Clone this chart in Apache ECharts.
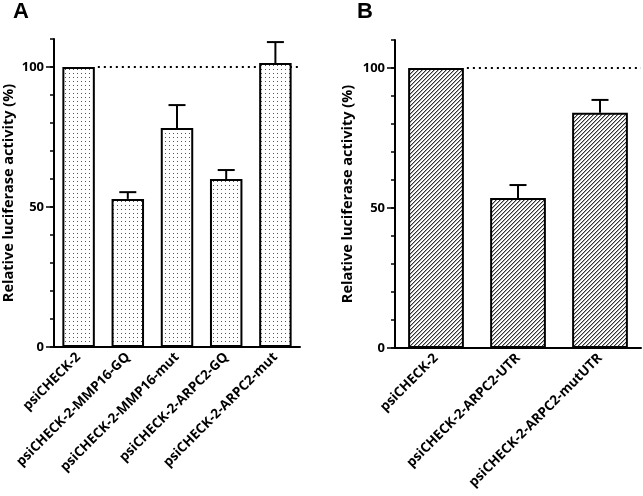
<!DOCTYPE html>
<html><head><meta charset="utf-8">
<script src="https://cdn.jsdelivr.net/npm/echarts@6/dist/echarts.min.js"></script>
<style>html,body{margin:0;padding:0;background:#fff}#c{width:643px;height:496px}</style>
</head><body><div id="c"></div>
<script>
var catsA = ['psiCHECK-2','psiCHECK-2-MMP16-GQ','psiCHECK-2-MMP16-mut','psiCHECK-2-ARPC2-GQ','psiCHECK-2-ARPC2-mut'];
var valsA = [100, 52.9, 78.2, 60.0, 101.4];
var errA  = [0, 2.4, 8.2, 3.2, 7.5];
var catsB = ['psiCHECK-2','psiCHECK-2-ARPC2-UTR','psiCHECK-2-ARPC2-mutUTR'];
var valsB = [100, 53.6, 84.0];
var errB  = [0, 4.6, 4.6];
var yLabels = [0, 50, 100];
var refValue = 100;

function makeDots(){
  var c=document.createElement('canvas');c.width=4;c.height=4;
  var g=c.getContext('2d');g.fillStyle='#fff';g.fillRect(0,0,4,4);
  g.fillStyle='#555';g.fillRect(1,1,1,1);return c;
}
function makeHatch(){
  var c=document.createElement('canvas');c.width=4;c.height=4;
  var g=c.getContext('2d');g.fillStyle='#fff';g.fillRect(0,0,4,4);
  g.fillStyle='#333';
  for(var i=0;i<4;i++){g.fillRect(3-i,i,1,1);}
  g.fillStyle='#aaa';
  for(var i=0;i<4;i++){g.fillRect((4-i)%4,i,1,1);}
  return c;
}
var FONT='Open Sans';
function yAxis(gi){
  return {type:'value',gridIndex:gi,min:0,max:110,interval:10,
    name:'Relative luciferase activity (%)',nameLocation:'middle',nameGap:gi===0?38:40,
    nameTextStyle:{fontFamily:FONT,fontWeight:'bold',fontSize:14.5,color:'#000'},
    axisLine:{show:true,lineStyle:{color:'#000',width:2}},
    axisTick:{show:true,length:4,lineStyle:{color:'#000',width:1.5}},
    splitLine:{show:false},
    axisLabel:{fontFamily:FONT,fontWeight:'bold',fontSize:13,color:'#000',margin:10,
      formatter:function(v){return yLabels.indexOf(v)>=0?String(v):'';}}
  };
}
function xAxis(gi,cats){
  return {type:'category',gridIndex:gi,data:cats,
    axisLine:{lineStyle:{color:'#000',width:2}},
    axisTick:{alignWithLabel:true,length:5,lineStyle:{color:'#000',width:1.5}},
    axisLabel:{interval:0,rotate:45,fontFamily:FONT,fontWeight:'bold',fontSize:13.5,color:'#000',margin:8}
  };
}
function majorTicks(gi){
  return {type:'custom',xAxisIndex:gi,yAxisIndex:gi,z:6,silent:true,clip:false,
    data:yLabels.map(function(v){return [0,v];}),
    renderItem:function(p,api){
      var y=api.coord([0,api.value(1)])[1];
      var x=p.coordSys.x;
      return {type:'line',shape:{x1:x-8,y1:y,x2:x,y2:y},style:{stroke:'#000',lineWidth:1.5}};
    }};
}
function errSeries(gi,vals,errs){
  return {type:'custom',xAxisIndex:gi,yAxisIndex:gi,z:5,clip:false,
    data:vals.map(function(v,i){return [i,v,errs[i]];}),
    renderItem:function(p,api){
      var i=api.value(0),v=api.value(1),e=api.value(2);
      if(!e) return null;
      var a=api.coord([i,v]),b=api.coord([i,v+e]);
      var hw=8.5;
      return {type:'group',children:[
        {type:'line',shape:{x1:a[0],y1:a[1],x2:b[0],y2:b[1]},style:{stroke:'#000',lineWidth:2}},
        {type:'line',shape:{x1:b[0]-hw,y1:b[1],x2:b[0]+hw,y2:b[1]},style:{stroke:'#000',lineWidth:2}}
      ]};
    }};
}
function refSeries(gi,ratio){
  return {type:'custom',xAxisIndex:gi,yAxisIndex:gi,z:1,
    data:[[0,refValue]],
    renderItem:function(p,api){
      var a=api.coord([0,api.value(1)]);
      var bw=api.size([1,0])[0]*ratio/2;
      var right=p.coordSys.x+p.coordSys.width;
      return {type:'line',shape:{x1:a[0]+bw+3,y1:a[1],x2:right,y2:a[1]},
        style:{stroke:'#000',lineWidth:2,lineDash:[2,4]}};
    }};
}
var chart=echarts.init(document.getElementById('c'),null,{renderer:'canvas'});
chart.setOption({
  animation:false,
  title:[
    {text:'A',left:8,top:-4,textStyle:{fontFamily:'Liberation Sans',fontWeight:'bold',fontSize:22,color:'#000'}},
    {text:'B',left:352,top:-4,textStyle:{fontFamily:'Liberation Sans',fontWeight:'bold',fontSize:22,color:'#000'}}
  ],
  grid:[
    {left:53,right:343,top:39,bottom:149,containLabel:false},
    {left:395,right:2,top:40,bottom:148,containLabel:false}
  ],
  xAxis:[xAxis(0,catsA),xAxis(1,catsB)],
  yAxis:[yAxis(0),yAxis(1)],
  series:[
    {type:'bar',xAxisIndex:0,yAxisIndex:0,data:valsA,barWidth:'66%',z:2,
      itemStyle:{color:{image:makeDots(),repeat:'repeat'},borderColor:'#000',borderWidth:2}},
    {type:'bar',xAxisIndex:1,yAxisIndex:1,data:valsB,barWidth:'68%',z:2,
      itemStyle:{color:{image:makeHatch(),repeat:'repeat'},borderColor:'#000',borderWidth:2}},
    refSeries(0,0.66),refSeries(1,0.68),
    errSeries(0,valsA,errA),errSeries(1,valsB,errB),
    majorTicks(0),majorTicks(1)
  ]
});
</script></body></html>
